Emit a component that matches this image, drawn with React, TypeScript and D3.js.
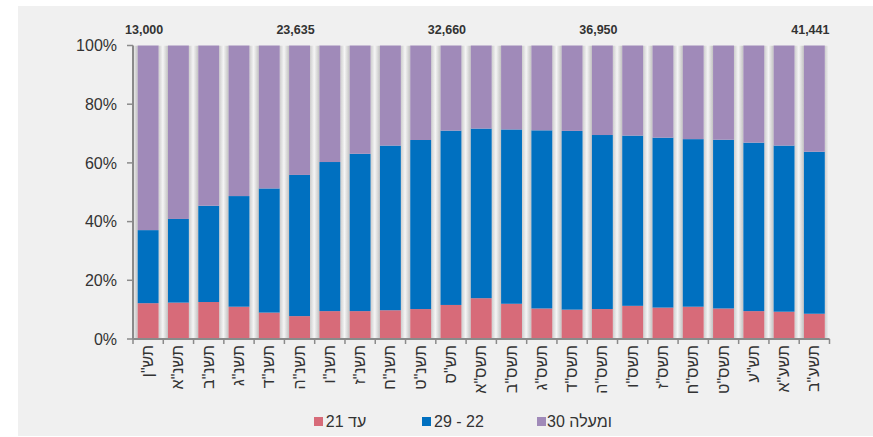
import React from "react";
import * as d3 from "d3";

const categories = ['תש"ן', 'תשנ"א', 'תשנ"ב', 'תשנ"ג', 'תשנ"ד', 'תשנ"ה', 'תשנ"ו', 'תשנ"ז', 'תשנ"ח', 'תשנ"ט', 'תש"ס', 'תשס"א', 'תשס"ב', 'תשס"ג', 'תשס"ד', 'תשס"ה', 'תשס"ו', 'תשס"ז', 'תשס"ח', 'תשס"ט', 'תש"ע', 'תשע"א', 'תשע"ב'];

const upTo21 = [12.2, 12.4, 12.6, 11.0, 9.0, 7.8, 9.5, 9.5, 9.8, 10.2, 11.6, 13.9, 12.0, 10.4, 10.0, 10.2, 11.3, 10.7, 11.0, 10.4, 9.5, 9.3, 8.6];
const age22to29 = [24.9, 28.5, 32.8, 37.7, 42.3, 48.1, 50.8, 53.6, 56.1, 57.6, 59.4, 57.8, 59.4, 60.7, 60.9, 59.3, 58.0, 57.9, 57.1, 57.5, 57.4, 56.6, 55.2];
const age30plus = [62.9, 59.1, 54.6, 51.3, 48.7, 44.1, 39.7, 36.9, 34.1, 32.2, 29.0, 28.3, 28.6, 28.9, 29.1, 30.5, 30.7, 31.4, 31.9, 32.1, 33.1, 34.1, 36.2];

const seriesKeys = ["a", "b", "c"];
const seriesNames = ["עד 21", "22 - 29", "ומעלה 30"];
const seriesColors = ["#D76B79", "#0070C0", "#A08AB9"];

const totalCategories = ['תש"ן', 'תשנ"ה', 'תש"ס', 'תשס"ה', 'תשע"ב'];
const totalValues = [13000, 23635, 32660, 36950, 41441];

const yTicks = [0, 20, 40, 60, 80, 100];

export default function App() {
  const W = 873, H = 437;
  const left = 133, right = 829.5, top = 45.5, bottom = 339;

  const rows = categories.map((c, i) => ({ cat: c, a: upTo21[i], b: age22to29[i], c: age30plus[i] }));
  const stacked = d3.stack<any>().keys(seriesKeys)(rows);

  const x = d3.scaleBand<string>().domain(categories).range([left, right]).paddingInner(0.31).paddingOuter(0.155);
  const y = d3.scaleLinear().domain([0, 100]).range([bottom, top]);
  const step = x.step();
  const gapW = step - x.bandwidth();
  const fmt = d3.format(",");
  const textColor = "#333333";
  const axisColor = "#8a8a8a";
  const font = "Arial, 'Liberation Sans', sans-serif";

  const gaps = d3.range(categories.length + 1).map((i) => left + i * step);

  const legendSquareX = [314, 422, 537];
  const legendTextCenter = [346, 459, 579.5];

  return (
    <div style={{ position: "absolute", left: 0, top: 0 }}>
      <svg width={W} height={H} style={{ display: "block" }} fontFamily={font}>
        <defs>
          <linearGradient id="gapGrad" x1="0" x2="1" y1="0" y2="0">
            <stop offset="0%" stopColor="#cdcdcd" />
            <stop offset="45%" stopColor="#f5f5f5" />
            <stop offset="100%" stopColor="#c2c2c2" />
          </linearGradient>
          <clipPath id="plotClip">
            <rect x={left} y={top} width={right - left} height={bottom - top} />
          </clipPath>
        </defs>
        <rect x={0} y={0} width={W} height={H} fill="#ffffff" />
        <rect x={18} y={6} width={W - 18} height={430} fill="#f0f0f0" />

        <g clipPath="url(#plotClip)">
          {gaps.map((g, i) => (
            <rect key={i} x={g - gapW / 2} y={top} width={gapW} height={bottom - top} fill="url(#gapGrad)" />
          ))}
        </g>

        {stacked.map((s, si) => (
          <g key={si} fill={seriesColors[si]}>
            {s.map((d: any, i: number) => (
              <rect
                key={i}
                x={x(d.data.cat)}
                y={y(d[1])}
                width={x.bandwidth()}
                height={y(d[0]) - y(d[1])}
              />
            ))}
          </g>
        ))}

        {/* axes */}
        <line x1={left} x2={left} y1={top} y2={bottom} stroke={axisColor} strokeWidth={2} />
        <line x1={left} x2={right} y1={bottom} y2={bottom} stroke={axisColor} strokeWidth={2} />
        {yTicks.map((t) => (
          <g key={t}>
            <line x1={left - 6} x2={left} y1={y(t)} y2={y(t)} stroke={axisColor} strokeWidth={1.5} />
            <text x={117} y={y(t)} dy="0.36em" textAnchor="end" fontSize={16} fill={textColor}>
              {t + "%"}
            </text>
          </g>
        ))}
        {gaps.map((g, i) => (
          <line key={i} x1={g} x2={g} y1={bottom} y2={bottom + 5} stroke={axisColor} strokeWidth={1.5} />
        ))}
        {categories.map((c) => {
          const cx = (x(c) as number) + x.bandwidth() / 2;
          return (
            <text
              key={c}
              transform={`translate(${cx + 5},${bottom + 6}) rotate(-90)`}
              textAnchor="end"
              fontSize={16}
              fill={textColor}
            >
              {c}
            </text>
          );
        })}

        {/* totals */}
        {totalCategories.map((c, i) => {
          const cx = (x(c) as number) + x.bandwidth() / 2;
          return (
            <text key={c} x={cx - 4} y={34} textAnchor="middle" fontSize={12.5} fontWeight="bold" fill={textColor}>
              {fmt(totalValues[i])}
            </text>
          );
        })}

        {/* legend */}
        {seriesNames.map((n, i) => (
          <g key={n}>
            <rect x={legendSquareX[i]} y={417} width={9} height={9} fill={seriesColors[i]} />
            <text
              x={legendTextCenter[i]}
              y={427}
              fontSize={16}
              fill={textColor}
              textAnchor="middle"
              style={{ direction: "rtl", unicodeBidi: "embed" }}
            >
              {n}
            </text>
          </g>
        ))}
      </svg>
    </div>
  );
}
